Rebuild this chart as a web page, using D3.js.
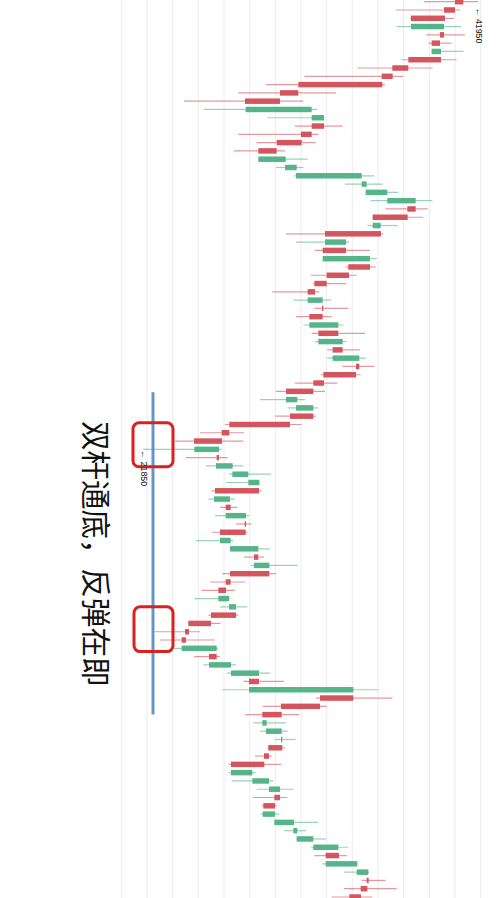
<!DOCTYPE html>
<html><head><meta charset="utf-8">
<script src="https://cdn.jsdelivr.net/npm/d3@7/dist/d3.min.js"></script>
<style>html,body{margin:0;padding:0;background:#fff;overflow:hidden}svg{display:block}</style>
</head><body><div id="chart"></div>
<script>
// ---- data (time runs top -> bottom, price increases to the right) ----
const opens = [41070,40570,39970,37930,39910,39670,39170,39730,37770,36830,
36210,31170,30070,28010,31970,32710,31970,31370,29870,28770,
30370,31030,34970,35210,36510,38210,37730,35630,36130,32770,
34030,32630,35470,34210,32870,32170,31730,32670,32630,31830,
33570,32370,33830,33230,34830,34630,32710,32070,30430,31030,
32070,30670,27030,26590,24930,26410,26230,27210,28170,28810,
26110,27110,26810,28030,28010,26470,27070,28770,28510,29430,
27110,26830,26370,27010,27430,25930,24610,24430,24170,26270,
25810,27130,28810,28210,34470,32470,30170,29010,29230,30130,
30210,29410,29130,27130,28410,29410,30070,29770,29030,29730,
30870,31070,32070,33610,32810,34670,35390,35310,34930];
const highs = [41950,40870,40510,40930,41170,40370,41070,40670,39230,37470,
36370,33430,31470,32310,32710,33830,32370,32210,30370,31730,
31470,35730,36230,37170,39210,38930,38670,37130,36270,34230,
35470,35870,35810,34670,34030,32430,33130,34170,33170,33870,
35170,34070,34870,35230,35730,34900,33510,32770,31570,32370,
32230,31370,27910,27870,26570,26930,27870,29530,28830,28970,
27370,27510,28230,28370,28130,27270,29470,29110,31130,29810,
27970,27370,27070,28110,27570,26510,25270,26170,26370,26470,
27430,29470,30310,35970,36810,32870,31230,30430,30530,31010,
30370,29570,30130,28610,29670,30910,30510,29870,30030,32370,
31630,32830,34170,34070,34710,35410,36410,37070,35610];
const lows = [38710,37010,37870,37070,38830,38970,39170,37370,34730,31530,
29230,27570,24310,25510,29310,30970,27570,28670,27310,28770,
29830,30930,33970,35210,35510,36410,35630,35310,30430,31030,
32170,32630,34030,31910,32070,29610,30870,32130,31030,31470,
31970,32170,32910,32910,33830,32500,30970,29810,28870,30530,
29770,26770,25270,23770,21850,24430,25630,27010,26810,25970,
25770,26470,26170,27430,25970,25030,27070,27910,28330,26610,
25870,25370,24930,26470,25770,24570,22570,22870,23670,24910,
25470,26870,27870,26610,32230,29030,27970,28470,28870,29770,
29330,28570,27010,27010,27170,28670,28430,28970,28910,29730,
30330,31070,31930,32130,32610,33910,34970,33910,33170];
const closes = [40570,39910,37930,39910,39670,39170,39730,37770,36810,36170,
31170,30070,27970,31970,32710,31970,31330,29870,28770,30410,
31070,34970,35270,36510,38210,37710,35630,36110,32770,34030,
32630,35470,34170,32870,32130,31730,32630,32590,31830,33570,
32370,33830,33230,34830,34630,32670,32070,30430,31110,32070,
30670,27030,26570,24910,26410,26270,27230,28170,28830,26170,
27070,26810,28030,27950,26470,27110,28770,28510,29430,27070,
26810,26370,27010,27430,25930,24570,24370,24170,26270,25810,
27130,28810,28210,34470,32470,30130,29010,29270,30170,30210,
29370,29110,27130,28410,29410,30070,29730,29070,29770,30910,
31110,32070,33570,32810,34710,35370,35270,34910,34230];
const days = d3.range(opens.length);                 // category axis: trading-day index
const priceTicks = [20550,22090,23630,25170,26710,28250,29790,31330,32870,34410,35950,37490,39030,40570,42110];
const priceDomain = [21850, 41950];
const titleText = "双杆通底，反弹在即";
const highLabel = "← 41950";
const lowLabel = "← 21850";
// annotations (in data units: day index, price)
const supportLine = {price: 22450, from: 47.1, to: 86.0};
const boxes = [{i0: 50.8, i1: 56.1, p0: 21250, p1: 23650},
               {i0: 73.0, i1: 78.4, p0: 21310, p1: 23650}];

// ---- drawing ----
const W = 500, H = 898;
const RED = "#d4555d", GREEN = "#56b48a";
const svg = d3.select("#chart").append("svg").attr("width", W).attr("height", H);
svg.append("rect").attr("width", W).attr("height", H).attr("fill", "#fff");

const x = d3.scaleLinear().domain(priceDomain).range([143, 478]);
const y = d3.scaleLinear().domain([0, days.length - 1]).range([1.7, 897]);
const step = y(1) - y(0);
const bodyH = step * 0.66;

// grid
svg.append("g").selectAll("line").data(priceTicks).join("line")
  .attr("x1", d => x(d)).attr("x2", d => x(d))
  .attr("y1", 0).attr("y2", H)
  .attr("stroke", "#ececec").attr("stroke-width", 1);

const candles = days.map(i => ({i, o: opens[i], h: highs[i], l: lows[i], c: closes[i]}));
const col = d => d.c >= d.o ? GREEN : RED;

svg.append("g").selectAll("line").data(candles).join("line")
  .attr("x1", d => x(d.l)).attr("x2", d => x(d.h))
  .attr("y1", d => y(d.i)).attr("y2", d => y(d.i))
  .attr("stroke", col).attr("stroke-opacity", 0.6).attr("stroke-width", 1.2);

svg.append("g").selectAll("rect").data(candles).join("rect")
  .attr("x", d => x(Math.min(d.o, d.c)))
  .attr("width", d => Math.max(1.2, Math.abs(x(d.o) - x(d.c))))
  .attr("y", d => y(d.i) - bodyH / 2)
  .attr("height", bodyH)
  .attr("fill", col);

// support line
svg.append("line")
  .attr("x1", x(supportLine.price)).attr("x2", x(supportLine.price))
  .attr("y1", y(supportLine.from)).attr("y2", y(supportLine.to))
  .attr("stroke", "#6497c9").attr("stroke-width", 3);

// red boxes
svg.append("g").selectAll("rect").data(boxes).join("rect")
  .attr("x", d => x(d.p0)).attr("width", d => x(d.p1) - x(d.p0))
  .attr("y", d => y(d.i0)).attr("height", d => y(d.i1) - y(d.i0))
  .attr("rx", 6).attr("ry", 6)
  .attr("fill", "none").attr("stroke", "#d8221f").attr("stroke-width", 3);

// price labels (rotated)
function rotLabel(txt, px, py, size) {
  svg.append("text")
    .attr("transform", `translate(${px},${py}) rotate(90)`)
    .attr("dominant-baseline", "central")
    .attr("font-family", "'Liberation Sans', Arial, sans-serif")
    .attr("font-size", size).attr("fill", "#111")
    .text(txt);
}
rotLabel(highLabel, x(41950) + 1, y(0) + 6, 8.8);
rotLabel(lowLabel, x(21850) + 1, y(54) + 1, 8.8);

// title (rotated)
svg.append("text")
  .attr("transform", `translate(98,421) rotate(90)`)
  .attr("dominant-baseline", "central")
  .attr("font-family", "'Noto Sans CJK SC', sans-serif")
  .attr("font-size", 29.5).attr("fill", "#111")
  .text(titleText);
</script>
</body></html>
